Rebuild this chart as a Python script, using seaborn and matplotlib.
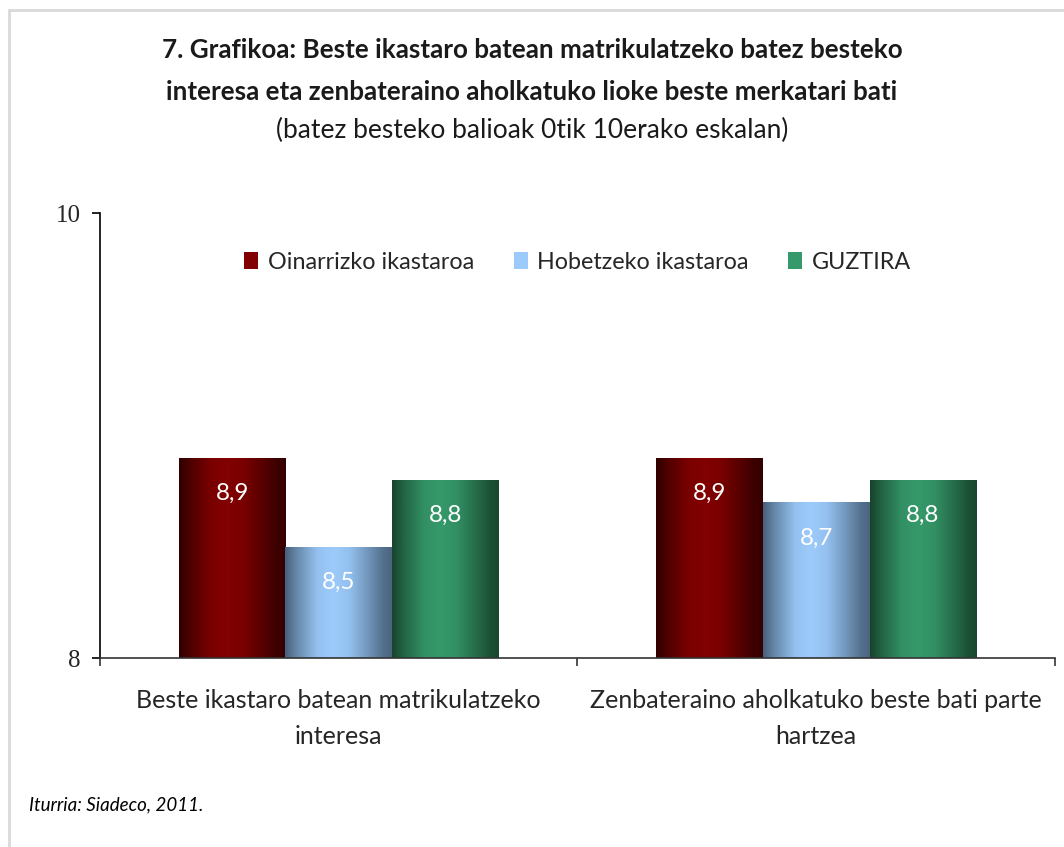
import matplotlib
matplotlib.use("Agg")
import matplotlib.pyplot as plt
import matplotlib.colors as mcolors
from matplotlib.patches import Patch
from matplotlib.lines import Line2D
import seaborn as sns
import numpy as np
import pandas as pd

# Data
categories = ["Beste ikastaro batean matrikulatzeko\ninteresa",
              "Zenbateraino aholkatuko beste bati parte\nhartzea"]
series = ["Oinarrizko ikastaroa", "Hobetzeko ikastaroa", "GUZTIRA"]
oinarrizko = [8.9, 8.9]
hobetzeko = [8.5, 8.7]
guztira = [8.8, 8.8]
value_labels = {"Oinarrizko ikastaroa": ["8,9", "8,9"],
                "Hobetzeko ikastaroa": ["8,5", "8,7"],
                "GUZTIRA": ["8,8", "8,8"]}

# colour pairs: (edge shade, centre shade)
shades = {"Oinarrizko ikastaroa": ("#300000", "#820000"),
          "Hobetzeko ikastaroa": ("#47607a", "#9ccbfb"),
          "GUZTIRA": ("#17442d", "#35996a")}

df = pd.DataFrame({
    "categoria": categories * 3,
    "serie": [s for s in series for _ in categories],
    "balioa": oinarrizko + hobetzeko + guztira,
})

sns.set_theme(style="white")
plt.rcParams["font.family"] = ["Lato", "DejaVu Sans"]

fig = plt.figure(figsize=(10.64, 8.47), dpi=100)
ax = fig.add_axes([0.094, 0.2231, 0.8975, 0.5254])

palette = {s: shades[s][1] for s in series}
sns.barplot(data=df, x="categoria", y="balioa", hue="serie", hue_order=series,
            order=categories, palette=palette, width=0.67, ax=ax,
            legend=False, saturation=1, errorbar=None)

# gradient fill per bar
prof_x = [0.0, 0.1, 0.3, 0.45, 0.6, 0.8, 0.92, 1.0]
prof_y = [0.0, 0.35, 0.9, 1.0, 0.9, 0.45, 0.15, 0.05]
t = np.interp(np.linspace(0, 1, 200), prof_x, prof_y)
for s, container in zip(series, ax.containers):
    cmap = mcolors.LinearSegmentedColormap.from_list(s, list(shades[s]))
    for i, bar in enumerate(container):
        x0 = bar.get_x()
        w = bar.get_width()
        h = bar.get_height()
        im = ax.imshow(t[np.newaxis, :], cmap=cmap, vmin=0, vmax=1,
                       extent=[x0, x0 + w, 8, 8 + h], aspect="auto",
                       origin="lower", zorder=2)
        im.set_clip_path(bar)
        bar.set_edgecolor("none")
        ax.text(x0 + w / 2, h - 0.16, value_labels[s][i], color="white",
                ha="center", va="center", fontsize=17.5, zorder=3)

ax.set_ylim(8, 10)
ax.set_xlim(-0.5, 1.5)

# axes styling
for side in ["top", "right"]:
    ax.spines[side].set_visible(False)
ax.spines["left"].set_color("black")
ax.spines["left"].set_linewidth(1.2)
ax.spines["bottom"].set_color("#333333")
ax.spines["bottom"].set_linewidth(1.2)

ax.set_yticks([8, 10])
ax.set_yticklabels(["8", "10"], family="Liberation Serif", fontsize=18)
ax.tick_params(axis="y", direction="out", length=6, width=1.2, color="black", pad=8, left=True)

ax.set_xticks([0, 1])
ax.set_xticklabels(categories, fontsize=18, linespacing=1.7)
ax.set_xticks([-0.5, 0.5, 1.5], minor=True)
ax.tick_params(axis="x", which="major", length=0, pad=22)
ax.tick_params(axis="x", which="minor", direction="out", length=6, width=1.2, color="#333333", bottom=True)
ax.set_xlabel("")
ax.set_ylabel("")

# legend
handles = [Patch(facecolor=shades[s][1], edgecolor="none", label=s) for s in series]
ax.legend(handles=handles, loc="upper center", bbox_to_anchor=(0.5, 0.96), ncol=3,
          frameon=False, fontsize=16.8, handlelength=0.6, handleheight=0.7,
          handletextpad=0.4, columnspacing=1.7)

# titles
fig.text(0.5, 0.941, "7. Grafikoa: Beste ikastaro batean matrikulatzeko batez besteko",
         ha="center", va="center", fontsize=18.7, fontweight="bold", color="#1a1a1a")
fig.text(0.5, 0.891, "interesa eta zenbateraino aholkatuko lioke beste merkatari bati",
         ha="center", va="center", fontsize=18.7, fontweight="bold", color="#1a1a1a")
fig.text(0.5, 0.846, "(batez besteko balioak 0tik 10erako eskalan)",
         ha="center", va="center", fontsize=19, color="#1a1a1a")

fig.text(0.027, 0.05, "Iturria: Siadeco, 2011.", ha="left", va="center",
         fontsize=13.5, style="italic", color="black")

# frame border (left and top edges)
fig.add_artist(Line2D([0.0085, 0.0085], [0, 0.988], transform=fig.transFigure,
                      color="#d9d9d9", linewidth=2))
fig.add_artist(Line2D([0.0085, 1], [0.988, 0.988], transform=fig.transFigure,
                      color="#d9d9d9", linewidth=2))

fig.savefig("out.png", dpi=100, facecolor="white")
